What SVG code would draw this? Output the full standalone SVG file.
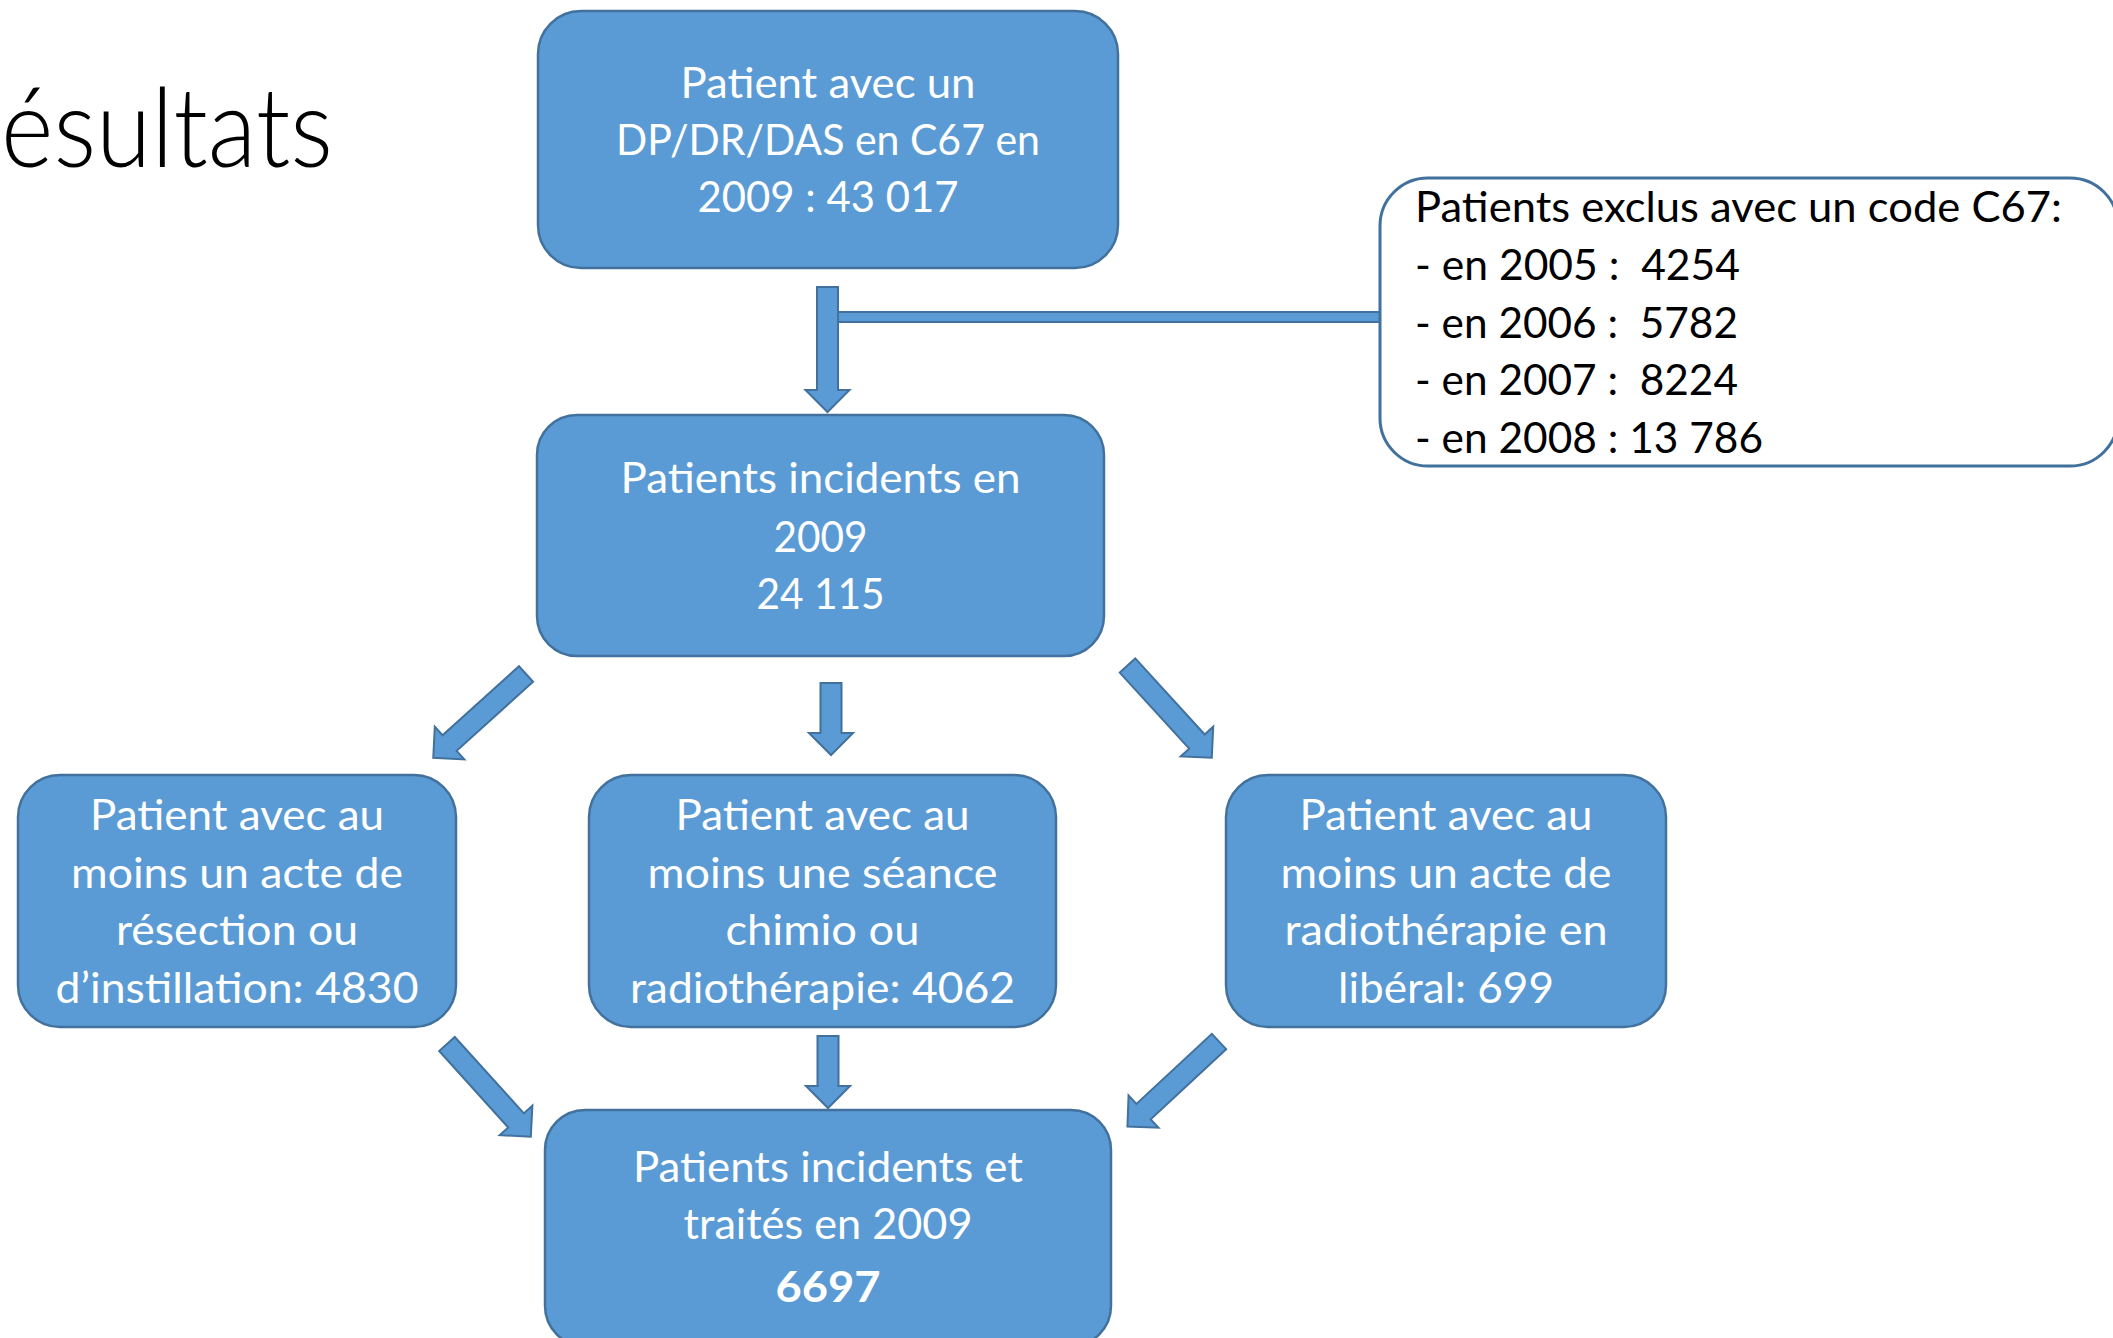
<svg xmlns="http://www.w3.org/2000/svg" xmlns:xlink="http://www.w3.org/1999/xlink" width="2113" height="1338" viewBox="0 0 2113 1338">
<style>
.box{fill:#5B9BD5;stroke:#41719C;stroke-width:2.5}
.excl{fill:#FFFFFF;stroke:#41719C;stroke-width:3}
.arr{fill:#5B9BD5;stroke:#41719C;stroke-width:2;stroke-linejoin:miter}
.w{fill:#FFFFFF;font-family:Lato,"Open Sans","Liberation Sans",sans-serif;font-size:42px;text-anchor:middle}
.b{font-weight:bold}
.k{fill:#000000;font-family:Lato,"Open Sans","Liberation Sans",sans-serif;font-size:42px}
.title{fill:#000000;font-family:Lato,"Open Sans","Liberation Sans",sans-serif;font-weight:300;font-size:110px}
</style>
<defs>
<path id="longArrow" d="M0,-10.5 L103,-10.5 L103,-22 L125,0 L103,22 L103,10.5 L0,10.5 Z"/>
<path id="shortArrow" d="M0,-10.5 L50,-10.5 L50,-22 L72,0 L50,22 L50,10.5 L0,10.5 Z"/>
</defs>
<rect width="2113" height="1338" fill="#FFFFFF"/>
<text class="title" x="1" y="167" textLength="332" lengthAdjust="spacingAndGlyphs">ésultats</text>

<g id="connectors">
<rect class="arr" x="836" y="312" width="545" height="10"/>
<use class="arr" xlink:href="#longArrow" href="#longArrow" transform="translate(827.5,287) rotate(90)"/>
<use class="arr" xlink:href="#shortArrow" href="#shortArrow" transform="translate(831,683) rotate(90)"/>
<use class="arr" xlink:href="#shortArrow" href="#shortArrow" transform="translate(828,1036) rotate(90)"/>
<use class="arr" xlink:href="#longArrow" href="#longArrow" transform="translate(526,674) rotate(137.9)"/>
<use class="arr" xlink:href="#longArrow" href="#longArrow" transform="translate(1127.5,665.5) rotate(47.6)"/>
<use class="arr" xlink:href="#longArrow" href="#longArrow" transform="translate(447,1044) rotate(47.9)"/>
<use class="arr" xlink:href="#longArrow" href="#longArrow" transform="translate(1219,1041.5) rotate(137.1)"/>
</g>

<g id="node-total">
<rect class="box" x="538" y="11" width="580" height="257" rx="43"/>
<text class="w" x="828" y="98" textLength="295" lengthAdjust="spacingAndGlyphs">Patient avec un</text>
<text class="w" x="828" y="155" textLength="424" lengthAdjust="spacingAndGlyphs">DP/DR/DAS en C67 en</text>
<text class="w" x="828" y="212" textLength="261" lengthAdjust="spacingAndGlyphs">2009 : 43 017</text>
</g>

<g id="node-exclus">
<rect class="excl" x="1380" y="178" width="738" height="288" rx="48"/>
<text class="k" x="1415" y="222" textLength="647" lengthAdjust="spacingAndGlyphs">Patients exclus avec un code C67:</text>
<text class="k" x="1415" y="280" xml:space="preserve" style="white-space:pre" textLength="325" lengthAdjust="spacingAndGlyphs">- en 2005 :  4254</text>
<text class="k" x="1415" y="338" xml:space="preserve" style="white-space:pre" textLength="323" lengthAdjust="spacingAndGlyphs">- en 2006 :  5782</text>
<text class="k" x="1415" y="395" xml:space="preserve" style="white-space:pre" textLength="323" lengthAdjust="spacingAndGlyphs">- en 2007 :  8224</text>
<text class="k" x="1415" y="453" textLength="348" lengthAdjust="spacingAndGlyphs">- en 2008 : 13 786</text>
</g>

<g id="node-incidents">
<rect class="box" x="537" y="415" width="567" height="241" rx="40"/>
<text class="w" x="820.5" y="493" textLength="400" lengthAdjust="spacingAndGlyphs">Patients incidents en</text>
<text class="w" x="820.5" y="552" textLength="94" lengthAdjust="spacingAndGlyphs">2009</text>
<text class="w" x="820.5" y="609" textLength="128" lengthAdjust="spacingAndGlyphs">24 115</text>
</g>

<g id="node-resection">
<rect class="box" x="18" y="775" width="438" height="252" rx="42"/>
<text class="w" x="237" y="830" textLength="294" lengthAdjust="spacingAndGlyphs">Patient avec au</text>
<text class="w" x="237" y="888" textLength="332" lengthAdjust="spacingAndGlyphs">moins un acte de</text>
<text class="w" x="237" y="945" textLength="242" lengthAdjust="spacingAndGlyphs">résection ou</text>
<text class="w" x="237" y="1003" textLength="363" lengthAdjust="spacingAndGlyphs">d’instillation: 4830</text>
</g>

<g id="node-chimio">
<rect class="box" x="589" y="775" width="467" height="252" rx="42"/>
<text class="w" x="822.5" y="830" textLength="294" lengthAdjust="spacingAndGlyphs">Patient avec au</text>
<text class="w" x="822.5" y="888" textLength="350" lengthAdjust="spacingAndGlyphs">moins une séance</text>
<text class="w" x="822.5" y="945" textLength="194" lengthAdjust="spacingAndGlyphs">chimio ou</text>
<text class="w" x="822.5" y="1003" textLength="385" lengthAdjust="spacingAndGlyphs">radiothérapie: 4062</text>
</g>

<g id="node-liberal">
<rect class="box" x="1226" y="775" width="440" height="252" rx="42"/>
<text class="w" x="1446" y="830" textLength="293" lengthAdjust="spacingAndGlyphs">Patient avec au</text>
<text class="w" x="1446" y="888" textLength="331" lengthAdjust="spacingAndGlyphs">moins un acte de</text>
<text class="w" x="1446" y="945" textLength="323" lengthAdjust="spacingAndGlyphs">radiothérapie en</text>
<text class="w" x="1446" y="1003" textLength="216" lengthAdjust="spacingAndGlyphs">libéral: 699</text>
</g>

<g id="node-traites">
<rect class="box" x="545" y="1110" width="566" height="236" rx="40"/>
<text class="w" x="828" y="1182" textLength="390" lengthAdjust="spacingAndGlyphs">Patients incidents et</text>
<text class="w" x="828" y="1239" textLength="289" lengthAdjust="spacingAndGlyphs">traités en 2009</text>
<text class="w b" x="828" y="1302" textLength="105" lengthAdjust="spacingAndGlyphs">6697</text>
</g>
</svg>
